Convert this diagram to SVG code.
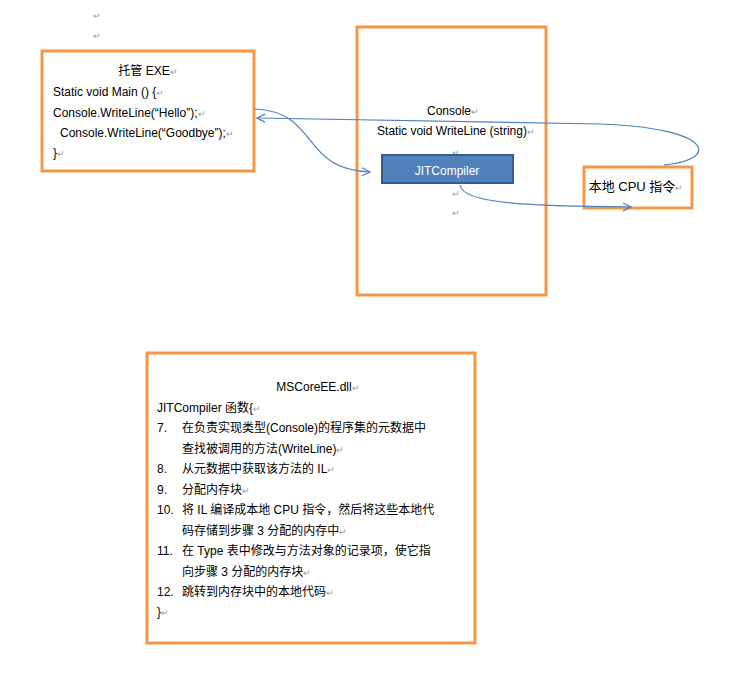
<svg xmlns="http://www.w3.org/2000/svg" width="735" height="678" viewBox="0 0 735 678">
<style>
.box{fill:#fff;stroke:#F79646;stroke-width:3}
.t{font-family:"Liberation Sans","Noto Sans CJK SC",sans-serif;font-size:12px;fill:#000}
.c{text-anchor:middle}
.pm{fill:#999;font-size:9px}
.conn{fill:none;stroke:#4F81BD;stroke-width:1.2}
</style>
<defs><marker id="a" markerWidth="10" markerHeight="10" refX="9" refY="5" orient="auto" markerUnits="userSpaceOnUse"><path d="M1,1 L9,5 L1,9" fill="none" stroke="#4F81BD" stroke-width="1.2"/></marker></defs>
<text class="t pm" x="93" y="19">↵</text><text class="t pm" x="93" y="39">↵</text>
<g id="exe"><rect class="box" x="42" y="51" width="212" height="120"/>
<text class="t c" x="148" y="75">托管 EXE<tspan class="pm">↵</tspan></text>
<text class="t" x="53" y="96">Static void Main () {<tspan class="pm">↵</tspan></text>
<text class="t" x="53" y="117">Console.WriteLine(“Hello”);<tspan class="pm">↵</tspan></text>
<text class="t" x="60" y="137">Console.WriteLine(“Goodbye”);<tspan class="pm">↵</tspan></text>
<text class="t" x="53" y="157">}<tspan class="pm">↵</tspan></text></g>
<g id="console"><rect class="box" x="357" y="27" width="189" height="268"/>
<text class="t c" x="453" y="115">Console<tspan class="pm">↵</tspan></text>
<text class="t c" x="456" y="135">Static void WriteLine (string)<tspan class="pm">↵</tspan></text>
<text class="t pm" x="452" y="156">↵</text><text class="t pm" x="452" y="197">↵</text><text class="t pm" x="452" y="216">↵</text></g>
<g id="jit"><rect x="382" y="155" width="131" height="28" fill="#4F81BD" stroke="#385D8A" stroke-width="2"/>
<text class="t c" x="447" y="175" fill="#fff" style="fill:#fff">JITCompiler</text></g>
<g id="cpu"><rect class="box" x="584" y="167" width="108" height="41"/>
<text class="t c" x="636" y="191" style="font-size:13px">本地 CPU 指令<tspan class="pm">↵</tspan></text></g>
<g id="dll"><rect class="box" x="147" y="353" width="328" height="290"/>
<text class="t c" x="318" y="391">MSCoreEE.dll<tspan class="pm">↵</tspan></text>
<text class="t" x="157" y="412">JITCompiler 函数{<tspan class="pm">↵</tspan></text>
<text class="t" x="157" y="432">7.</text><text class="t" x="182" y="432">在负责实现类型(Console)的程序集的元数据中</text>
<text class="t" x="182" y="453">查找被调用的方法(WriteLine)<tspan class="pm">↵</tspan></text>
<text class="t" x="157" y="473">8.</text><text class="t" x="182" y="473">从元数据中获取该方法的 IL<tspan class="pm">↵</tspan></text>
<text class="t" x="157" y="494">9.</text><text class="t" x="182" y="494">分配内存块<tspan class="pm">↵</tspan></text>
<text class="t" x="157" y="514">10.</text><text class="t" x="182" y="514">将 IL 编译成本地 CPU 指令，然后将这些本地代</text>
<text class="t" x="182" y="535">码存储到步骤 3 分配的内存中<tspan class="pm">↵</tspan></text>
<text class="t" x="157" y="555">11.</text><text class="t" x="182" y="555">在 Type 表中修改与方法对象的记录项，使它指</text>
<text class="t" x="182" y="576">向步骤 3 分配的内存块<tspan class="pm">↵</tspan></text>
<text class="t" x="157" y="596">12.</text><text class="t" x="182" y="596">跳转到内存块中的本地代码<tspan class="pm">↵</tspan></text>
<text class="t" x="157" y="616">}<tspan class="pm">↵</tspan></text></g>
<g id="connectors">
<path class="conn" d="M255,109 C320,112 300,170 370,172" marker-end="url(#a)"/>
<path class="conn" d="M460,185 C462,205 540,206 631,207" marker-end="url(#a)"/>
<path class="conn" d="M664,165 C720,160 715,128 600,124 L257,118" marker-end="url(#a)"/>
</g>
</svg>
